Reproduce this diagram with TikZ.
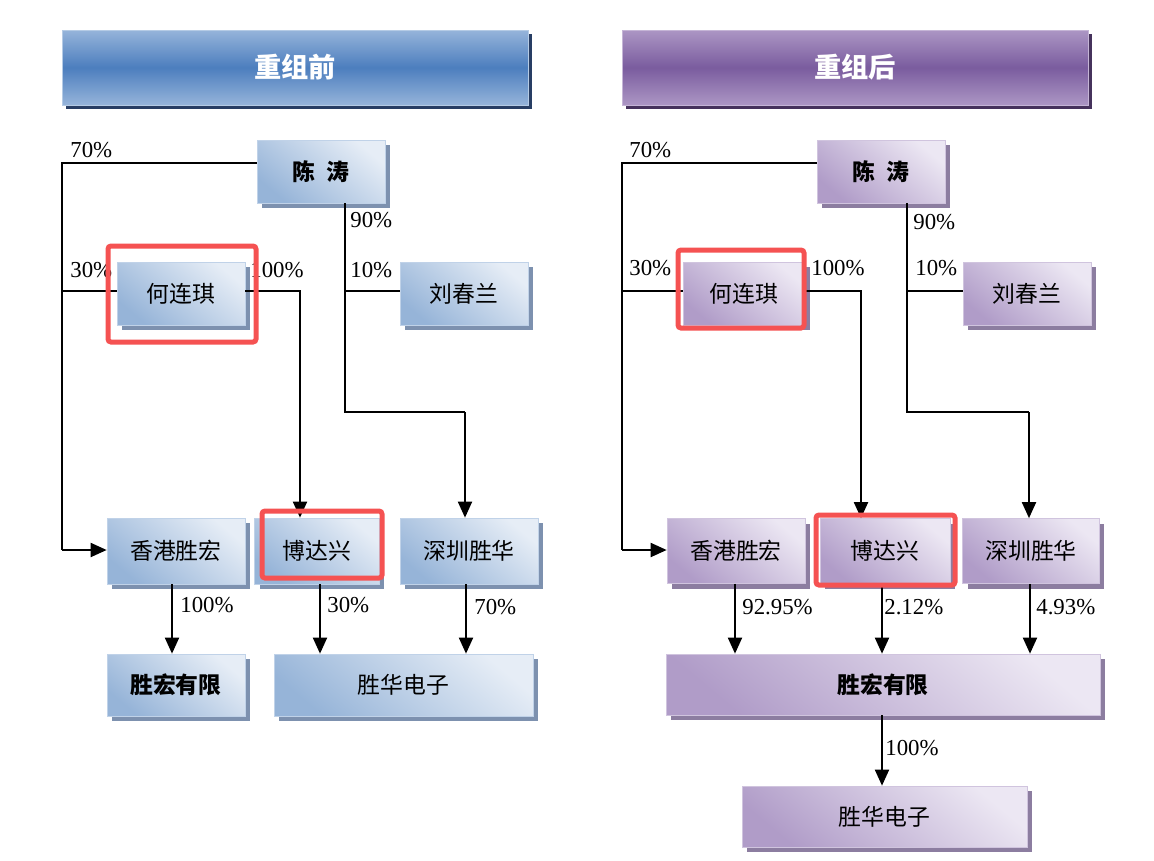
\documentclass[tikz,border=0pt]{standalone}
\usepackage{fontspec}
\setmainfont{Liberation Serif}
\newfontfamily\cjk{Noto Sans CJK SC}
\usetikzlibrary{shadows,arrows.meta}
\definecolor{bDark}{RGB}{150,180,216}
\definecolor{bLight}{RGB}{230,237,246}
\definecolor{bShadow}{RGB}{125,145,175}
\definecolor{pDark}{RGB}{176,156,200}
\definecolor{pLight}{RGB}{236,231,243}
\definecolor{pShadow}{RGB}{140,125,160}
\definecolor{hbEdge}{RGB}{150,180,218}
\definecolor{hbMid}{RGB}{76,126,190}
\definecolor{hbShadow}{RGB}{40,62,100}
\definecolor{hpEdge}{RGB}{172,150,196}
\definecolor{hpMid}{RGB}{122,92,158}
\definecolor{hpShadow}{RGB}{70,50,92}
\definecolor{redframe}{RGB}{245,82,82}
\tikzset{
  x=0.02cm, y=-0.02cm,
  bbox/.style={shade, top color=bLight, bottom color=bDark, shading angle=-40,
    draw=bDark!60, line width=0.4pt, inner sep=0pt,
    drop shadow={shadow xshift=0.1cm, shadow yshift=-0.1cm, fill=bShadow, opacity=1},
    font=\cjk\fontsize{13}{15}\selectfont},
  pbox/.style={shade, top color=pLight, bottom color=pDark, shading angle=-40,
    draw=pDark!60, line width=0.4pt, inner sep=0pt,
    drop shadow={shadow xshift=0.1cm, shadow yshift=-0.1cm, fill=pShadow, opacity=1},
    font=\cjk\fontsize{13}{15}\selectfont},
  bhdr/.style={shade, top color=hbEdge, bottom color=hbEdge, middle color=hbMid,
    draw=hbEdge!70, inner sep=0pt, text=white,
    drop shadow={shadow xshift=0.08cm, shadow yshift=-0.08cm, fill=hbShadow, opacity=1},
    font=\cjk\bfseries\fontsize{15.5}{18}\selectfont},
  phdr/.style={shade, top color=hpEdge, bottom color=hpEdge, middle color=hpMid,
    draw=hpEdge!70, inner sep=0pt, text=white,
    drop shadow={shadow xshift=0.08cm, shadow yshift=-0.08cm, fill=hpShadow, opacity=1},
    font=\cjk\bfseries\fontsize{15.5}{18}\selectfont},
  ln/.style={line width=1.1pt, black},
  arr/.style={ln, -{Triangle[length=0.32cm,width=0.28cm]}},
  pct/.style={anchor=west, inner sep=0pt, font=\fontsize{13}{15}\selectfont},
  redbox/.style={draw=redframe, line width=0.1cm, rounded corners=0.06cm},
}
\begin{document}
\begin{tikzpicture}
\useasboundingbox (0,0) rectangle (1154,860);
% ===== Left panel =====
\node[bhdr, minimum width=9.32cm, minimum height=1.5cm] (hdrL) at (295,67.5) {重组前};
\node[bbox, minimum width=2.56cm, minimum height=1.26cm] (chenL) at (321,171.5) {\bfseries 陈\hspace{0.5em}涛};
\node[bbox, minimum width=2.56cm, minimum height=1.26cm] (heL) at (181,293.5) {何连琪};
\node[bbox, minimum width=2.56cm, minimum height=1.26cm] (liuL) at (464,293.5) {刘春兰};
\node[bbox, minimum width=2.76cm, minimum height=1.32cm] (hkL) at (176,551) {香港胜宏};
\node[bbox, minimum width=2.5cm, minimum height=1.32cm] (bdxL) at (317,551) {博达兴};
\node[bbox, minimum width=2.76cm, minimum height=1.32cm] (szL) at (469,551) {深圳胜华};
\node[bbox, minimum width=2.76cm, minimum height=1.24cm] (shL) at (176,685) {\bfseries 胜宏有限};
\node[bbox, minimum width=5.18cm, minimum height=1.24cm] (shdzL) at (403.5,685) {胜华电子};

\coordinate (trunkL) at (62,550);
\draw[ln] (chenL.west |- 0,163) -- (62,163) -- (trunkL);
\draw[arr] (trunkL) -- (hkL.west |- trunkL);
\draw[ln] (62,291) -- (heL.west |- 0,291);
\draw[arr] (heL.east |- 0,291) -| (bdxL.north -| 300,0);
\draw[ln] (chenL.south -| 345,0) -- (345,412) -- (465,412);
\draw[arr] (465,412) -- (szL.north -| 465,0);
\draw[ln] (345,291) -- (liuL.west |- 0,291);
\draw[arr] (hkL.south -| 172,0) -- (shL.north -| 172,0);
\draw[arr] (bdxL.south -| 320,0) -- (shdzL.north -| 320,0);
\draw[arr] (szL.south -| 466,0) -- (shdzL.north -| 466,0);

\node[pct] (p1) at (70,150) {70\%};
\node[pct] (p2) at (70,270) {30\%};
\node[pct] (p3) at (250,270) {100\%};
\node[pct] (p4) at (350,220) {90\%};
\node[pct] (p5) at (350,270) {10\%};
\node[pct] (p6) at (180,605) {100\%};
\node[pct] (p7) at (327,605) {30\%};
\node[pct] (p8) at (474,607) {70\%};

\draw[redbox] (108,246) rectangle (256,342);
\draw[redbox] (262,511) rectangle (382,578);

% ===== Right panel =====
\node[phdr, minimum width=9.32cm, minimum height=1.5cm] (hdrR) at (855,67.5) {重组后};
\node[pbox, minimum width=2.56cm, minimum height=1.26cm] (chenR) at (881,171.5) {\bfseries 陈\hspace{0.5em}涛};
\node[pbox, minimum width=2.44cm, minimum height=1.26cm] (heR) at (744,293.5) {何连琪};
\node[pbox, minimum width=2.56cm, minimum height=1.26cm] (liuR) at (1027,293.5) {刘春兰};
\node[pbox, minimum width=2.76cm, minimum height=1.3cm] (hkR) at (736,551) {香港胜宏};
\node[pbox, minimum width=2.6cm, minimum height=1.3cm] (bdxR) at (885,551) {博达兴};
\node[pbox, minimum width=2.74cm, minimum height=1.3cm] (szR) at (1031,551) {深圳胜华};
\node[pbox, minimum width=8.68cm, minimum height=1.22cm] (shR) at (883,684.5) {\bfseries 胜宏有限};
\node[pbox, minimum width=5.7cm, minimum height=1.22cm] (shdzR) at (884.5,816.5) {胜华电子};

\coordinate (trunkR) at (622,550);
\draw[ln] (chenR.west |- 0,163) -- (622,163) -- (trunkR);
\draw[arr] (trunkR) -- (hkR.west |- trunkR);
\draw[ln] (622,291) -- (heR.west |- 0,291);
\draw[arr] (heR.east |- 0,291) -| (bdxR.north -| 861,0);
\draw[ln] (chenR.south -| 907,0) -- (907,412) -- (1029,412);
\draw[arr] (1029,412) -- (szR.north -| 1029,0);
\draw[ln] (907,291) -- (liuR.west |- 0,291);
\draw[arr] (hkR.south -| 735,0) -- (shR.north -| 735,0);
\draw[arr] (bdxR.south -| 882,0) -- (shR.north -| 882,0);
\draw[arr] (szR.south -| 1030,0) -- (shR.north -| 1030,0);
\draw[arr] (shR.south -| 882,0) -- (shdzR.north -| 882,0);

\node[pct] (q1) at (629,150) {70\%};
\node[pct] (q2) at (629,268) {30\%};
\node[pct] (q3) at (811,268) {100\%};
\node[pct] (q4) at (913,222) {90\%};
\node[pct] (q5) at (915,268) {10\%};
\node[pct] (q6) at (742,607) {92.95\%};
\node[pct] (q7) at (884,607) {2.12\%};
\node[pct] (q8) at (1036,607) {4.93\%};
\node[pct] (q9) at (885,748) {100\%};

\draw[redbox] (678,250) rectangle (804,328);
\draw[redbox] (816,515) rectangle (955,585);
\end{tikzpicture}
\end{document}
